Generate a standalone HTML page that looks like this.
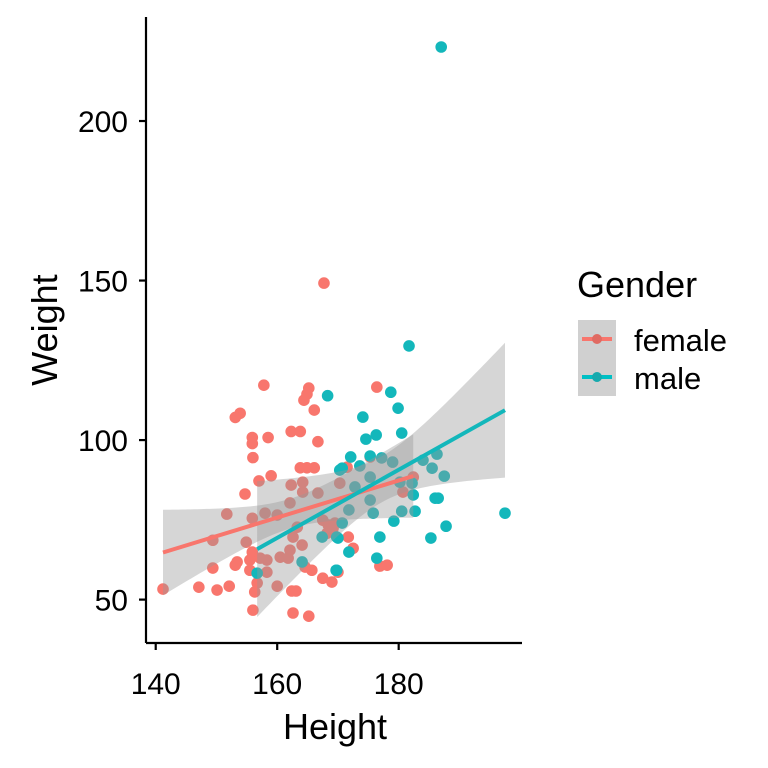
<!DOCTYPE html>
<html><head><meta charset="utf-8"><style>
body{margin:0;background:#fff}
svg{display:block;font-family:"Liberation Sans",Arial,sans-serif}
</style></head><body>
<svg id="chart" width="768" height="768" viewBox="0 0 768 768">
<g id="pts"></g>
<g id="ribbons"></g>
<g id="lines"></g>
<g id="axes"></g>
<text x="335" y="739" font-size="36" text-anchor="middle">Height</text>
<text transform="translate(57,330) rotate(-90)" font-size="36" text-anchor="middle">Weight</text>
<g>
<text x="577" y="297" font-size="36">Gender</text>
<g>
<rect x="578" y="320" width="38" height="38" fill="#d0d0d0"/>
<line x1="582" y1="339" x2="612" y2="339" stroke="#F8766D" stroke-width="4"/>
<circle cx="597" cy="339" r="5" fill="#e06a62"/>
<text x="634" y="351" font-size="31">female</text>
</g>
<g>
<rect x="578" y="358" width="38" height="38" fill="#d0d0d0"/>
<line x1="582" y1="377" x2="612" y2="377" stroke="#00BFC4" stroke-width="4"/>
<circle cx="597" cy="377" r="5" fill="#16a9ad"/>
<text x="634" y="389" font-size="31">male</text>
</g>
</g>
</svg>
<script>
const femaleHeight=[157.8,165.2,164.9,164.4,166.1,153.9,153.1,155.9,155.9,158.5,162.3,163.8,166.7,156.0,163.8,164.9,166.1,157.0,159.0,154.7,162.3,164.2,151.7,155.9,158.0,160.0,162.1,164.2,166.7,149.4,154.9,163.3,164.1,162.6,155.9,155.5,155.5,157.2,158.3,158.3,160.5,162.1,161.8,149.4,153.1,153.4,141.2,147.1,150.1,152.1,156.7,156.3,160.0,162.4,163.1,156.0,162.6,165.2,164.6,165.7,167.5,169.0,170.0,176.9,178.1,167.5,168.4,169.5,168.2,169.2,176.4,175.3,171.5,180.7,182.4,171.7,172.5,170.3,167.7];
const femaleWeight=[117.2,116.3,114.4,112.5,109.4,108.4,107.1,100.8,98.9,100.8,102.7,102.7,99.5,94.5,91.3,91.3,91.3,87.2,88.8,83.1,85.9,86.8,76.8,75.5,77.1,76.5,80.3,83.7,83.4,68.6,68.0,72.7,67.1,69.6,64.9,62.4,59.2,63.0,62.4,58.6,63.3,65.5,63.0,59.9,60.8,61.8,53.3,53.9,53.0,54.2,55.2,52.4,54.2,52.7,52.7,46.7,45.8,44.8,60.2,59.2,56.7,55.5,58.6,60.5,60.8,74.9,73.4,74.0,70.8,72.4,116.6,94.7,91.5,83.7,88.4,69.6,66.1,86.5,149.2];
const maleHeight=[187.0,181.7,168.3,197.5,178.7,179.9,174.1,174.6,176.3,180.5,172.1,175.3,177.2,179.0,186.3,184.0,185.5,187.5,170.7,173.6,172.8,175.3,180.2,182.2,182.4,175.3,186.0,186.5,171.8,175.8,180.5,182.7,179.2,187.8,170.7,176.9,185.3,170.0,171.8,176.4,169.7,156.7,164.1,167.4,169.8,170.3,169.8];
const maleWeight=[223.2,129.5,113.9,77.1,115.0,110.0,107.2,100.3,101.6,102.2,94.7,95.0,94.4,93.1,95.6,93.7,91.2,88.7,91.2,91.9,85.3,88.4,86.8,86.5,82.8,81.2,81.8,81.8,78.1,77.1,77.7,77.7,74.6,73.0,74.0,69.6,69.3,69.3,64.9,63.0,59.2,58.3,61.8,69.6,69.6,90.6,59.2];
const xTicks=[140,160,180];
const yTicks=[50,100,150,200];

const NS="http://www.w3.org/2000/svg";
const X0=146,X1=522,Y0=17,Y1=643;
const xMin=138.4,xMax=200.3,yMin=36.4,yMax=232.6;
function sx(v){return X0+(v-xMin)/(xMax-xMin)*(X1-X0);}
function sy(v){return Y1-(v-yMin)/(yMax-yMin)*(Y1-Y0);}
function mk(tag,attrs,parent){const e=document.createElementNS(NS,tag);for(const k in attrs)e.setAttribute(k,attrs[k]);parent.appendChild(e);return e;}

const pts=document.getElementById('pts');
function drawPts(xs,ys,col,nm){
  for(let i=0;i<xs.length;i++){
    const c=mk('circle',{cx:sx(xs[i]),cy:sy(ys[i]),r:5.8,fill:col},pts);
    
    
  }
}
drawPts(femaleHeight,femaleWeight,'#F8766D','female-point');
drawPts(maleHeight,maleWeight,'#13B7BB','male-point');

function fit(xs,ys,col,nm){
  const n=xs.length;let mx=0,my=0;
  for(let i=0;i<n;i++){mx+=xs[i];my+=ys[i];}mx/=n;my/=n;
  let sxx=0,sxy=0;for(let i=0;i<n;i++){sxx+=(xs[i]-mx)**2;sxy+=(xs[i]-mx)*(ys[i]-my);}
  const b=sxy/sxx,a=my-b*mx;
  let sse=0;for(let i=0;i<n;i++){sse+=(ys[i]-a-b*xs[i])**2;}
  const s=Math.sqrt(sse/(n-2)),t=2.0;
  const lo=Math.min(...xs),hi=Math.max(...xs);
  const up=[],dn=[];
  for(let k=0;k<=80;k++){
    const x=lo+(hi-lo)*k/80,yh=a+b*x,se=s*Math.sqrt(1/n+(x-mx)**2/sxx);
    up.push(sx(x)+','+sy(yh+t*se));dn.unshift(sx(x)+','+sy(yh-t*se));
  }
  const r=mk('polygon',{points:up.concat(dn).join(' '),fill:'#999999','fill-opacity':0.4},document.getElementById('ribbons'));
  
  
  const l=mk('line',{x1:sx(lo),y1:sy(a+b*lo),x2:sx(hi),y2:sy(a+b*hi),stroke:col,'stroke-width':4},document.getElementById('lines'));
  
  
}
fit(femaleHeight,femaleWeight,'#F8766D','female');
fit(maleHeight,maleWeight,'#13B7BB','male');

const ax=document.getElementById('axes');
const xl=mk('line',{x1:X0,y1:Y1,x2:X1,y2:Y1,stroke:'#000','stroke-width':2.2},ax);


const yl=mk('line',{x1:X0,y1:Y0,x2:X0,y2:Y1,stroke:'#000','stroke-width':2.2},ax);


xTicks.forEach(v=>{
  mk('line',{x1:sx(v),y1:Y1,x2:sx(v),y2:Y1+7,stroke:'#000','stroke-width':2.2},ax);
  const t=mk('text',{x:sx(v),y:Y1+51,'font-size':30,'text-anchor':'middle'},ax);
  t.textContent=v;
  
  
});
yTicks.forEach(v=>{
  mk('line',{x1:X0-7,y1:sy(v),x2:X0,y2:sy(v),stroke:'#000','stroke-width':2.2},ax);
  const t=mk('text',{x:X0-18,y:sy(v)+11,'font-size':30,'text-anchor':'end'},ax);
  t.textContent=v;
  
  
});
</script>
</body></html>
